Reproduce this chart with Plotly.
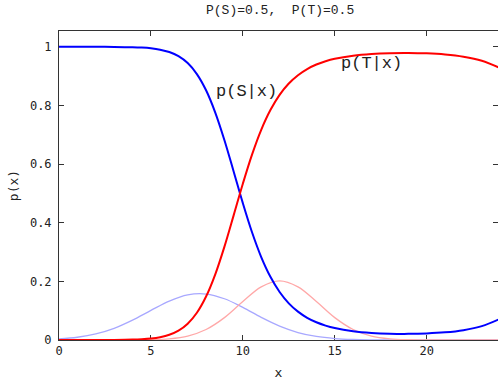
import plotly.graph_objects as go

# Likelihood curves (light)
x_lik = [0, 1, 2, 3, 4, 5, 6, 7, 8, 9, 10, 11, 12, 13, 14, 15, 16, 17, 18, 19, 20, 21, 22, 23, 24]
p_x_given_S = [0.0038, 0.0094, 0.0207, 0.0398, 0.0677, 0.1010, 0.1328, 0.1538, 0.1568, 0.1407,
               0.1111, 0.0772, 0.0473, 0.0255, 0.0121, 0.0050, 0.0018, 0.0006, 0.0002, 0.0, 0.0,
               0.0, 0.0, 0.0, 0.0]
p_x_given_T = [0.0, 0.0, 0.0, 0.0, 0.0002, 0.0010, 0.0041, 0.0135, 0.0358, 0.0763, 0.1311, 0.1813,
               0.2020, 0.1813, 0.1311, 0.0763, 0.0358, 0.0135, 0.0041, 0.0010, 0.0002, 0.0, 0.0,
               0.0, 0.0]

# Posterior curves
x_post = [0, 1, 2, 3, 4, 4.5, 5, 5.5, 6, 6.5, 7, 7.5, 8, 8.5, 9, 9.5, 10, 10.5, 11, 11.5, 12,
          12.5, 13, 13.5, 14, 14.5, 15, 16, 17, 18, 19, 20, 21, 22, 23, 24]
p_S_given_x = [1.0, 1.0, 0.9999, 0.9997, 0.9987, 0.9974, 0.9950, 0.9904, 0.9823, 0.9681, 0.9445,
               0.9071, 0.8518, 0.7759, 0.6814, 0.5749, 0.4668, 0.3675, 0.2829, 0.2155, 0.1638,
               0.1251, 0.0967, 0.0757, 0.0604, 0.0492, 0.0408, 0.0301, 0.0243, 0.0215, 0.0209,
               0.0223, 0.0261, 0.0336, 0.0473, 0.0723]
p_T_given_x = [0.0, 0.0, 0.0001, 0.0003, 0.0013, 0.0026, 0.0050, 0.0096, 0.0177, 0.0319, 0.0555,
               0.0929, 0.1482, 0.2241, 0.3186, 0.4251, 0.5332, 0.6325, 0.7171, 0.7845, 0.8362,
               0.8749, 0.9033, 0.9243, 0.9396, 0.9508, 0.9592, 0.9699, 0.9757, 0.9785, 0.9791,
               0.9777, 0.9739, 0.9664, 0.9527, 0.9277]

x_ticks = [0, 5, 10, 15, 20]
y_ticks = [0, 0.2, 0.4, 0.6, 0.8, 1]
y_tick_text = ["0", "0.2", "0.4", "0.6", "0.8", "1"]

title_text = "P(S)=0.5,  P(T)=0.5"
label_S = "p(S|x)"
label_T = "p(T|x)"

fig = go.Figure()
fig.add_trace(go.Scatter(x=x_lik, y=p_x_given_S, mode="lines", hoverinfo="skip",
                         line=dict(color="#a8a8ff", width=1.3, shape="spline"), showlegend=False))
fig.add_trace(go.Scatter(x=x_lik, y=p_x_given_T, mode="lines", hoverinfo="skip",
                         line=dict(color="#ffa8a8", width=1.3, shape="spline"), showlegend=False))
fig.add_trace(go.Scatter(x=x_post, y=p_S_given_x, mode="lines", hoverinfo="skip",
                         line=dict(color="#0000ff", width=2, shape="spline"), showlegend=False))
fig.add_trace(go.Scatter(x=x_post, y=p_T_given_x, mode="lines", hoverinfo="skip",
                         line=dict(color="#ff0000", width=2, shape="spline"), showlegend=False))

mono = "Liberation Mono"
fig.update_layout(
    width=498, height=380,
    margin=dict(l=59, r=0, t=31, b=40),
    paper_bgcolor="white", plot_bgcolor="white",
    font=dict(family=mono, size=12, color="#222222"),
    hovermode=False,
    xaxis=dict(range=[0, 23.88], tickvals=x_ticks, ticks="inside", ticklen=5,
               tickcolor="#333333", showline=True, linecolor="#333333", linewidth=1,
               mirror="ticks", showgrid=False, zeroline=False, layer="below traces",
               tickfont=dict(family="DejaVu Sans Mono", size=12, color="#222222"),
               title=dict(text="x", standoff=10,
                          font=dict(family="DejaVu Sans Mono", size=13, color="#222222"))),
    yaxis=dict(range=[0, 1.054], tickvals=y_ticks, ticktext=y_tick_text, ticks="inside",
               ticklen=5, tickcolor="#333333", showline=True, linecolor="#333333", linewidth=1,
               mirror="ticks", showgrid=False, zeroline=False, layer="below traces",
               ticklabelstandoff=4,
               tickfont=dict(family="DejaVu Sans Mono", size=12, color="#222222"),
               title=dict(text="p(x)", standoff=8,
                          font=dict(family="DejaVu Sans Mono", size=13, color="#222222"))),
)

fig.add_annotation(x=12.02, y=1.0, xref="x", yref="paper", yanchor="bottom", yshift=11,
                   text=title_text, showarrow=False,
                   font=dict(family=mono, size=13, color="#222222"))
fig.add_annotation(x=10.21, y=0.846, xref="x", yref="y", text=label_S, showarrow=False,
                   font=dict(family=mono, size=17, color="#222222"))
fig.add_annotation(x=17.0, y=0.943, xref="x", yref="y", text=label_T, showarrow=False,
                   font=dict(family=mono, size=17, color="#222222"))

fig.write_html("out.html", config={"displayModeBar": False, "staticPlot": True},
               post_script="document.body.style.margin='0';document.body.style.overflow='hidden';")
